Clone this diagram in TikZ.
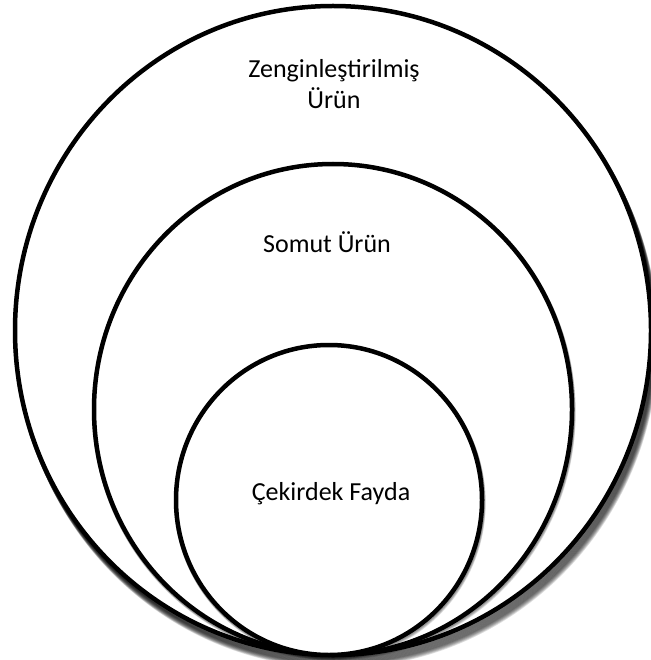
\documentclass[tikz,border=0pt]{standalone}
\usepackage{fontspec}
\setmainfont{Carlito}
\usepackage{xcolor}
\usepackage{tikz}
\definecolor{ringInk}{RGB}{0, 0, 0}

\begin{document}
\begin{tikzpicture}[x=1pt, y=-1pt,
    ring/.style={draw=ringInk, line width=4.5pt, fill=white},
    ringshade/.style={draw=ringInk, line width=5pt, opacity=0.13},
    lbl/.style={font=\fontsize{26}{31}\selectfont, align=center}]
        \useasboundingbox (0,0) rectangle (650,660);
        % outer ring with soft shadow
        \foreach \k in {1,...,14}
            \draw[ringshade] (333+0.35*\k,330.5+0.75*\k) ellipse (318 and 324.5);
        \draw[ring] (333,330.5) ellipse (318 and 324.5);
        % middle ring
        \foreach \k in {1,...,4}
            \draw[ringshade] (333+0.3*\k,409.5+0.7*\k) ellipse (239 and 245.5);
        \draw[ring] (333,409.5) ellipse (239 and 245.5);
        % inner ring
        \foreach \k in {1,...,4}
            \draw[ringshade] (329+0.3*\k,500+0.7*\k) ellipse (153 and 155);
        \draw[ring] (329,500) ellipse (153 and 155);
        \node[lbl] (zengin) at (334,84) {Zenginleştirilmiş\\Ürün};
        \node[lbl] (somut) at (327,242) {Somut Ürün};
        \node[lbl] (cekirdek) at (331,494) {Çekirdek Fayda};
    \end{tikzpicture}
\end{document}
